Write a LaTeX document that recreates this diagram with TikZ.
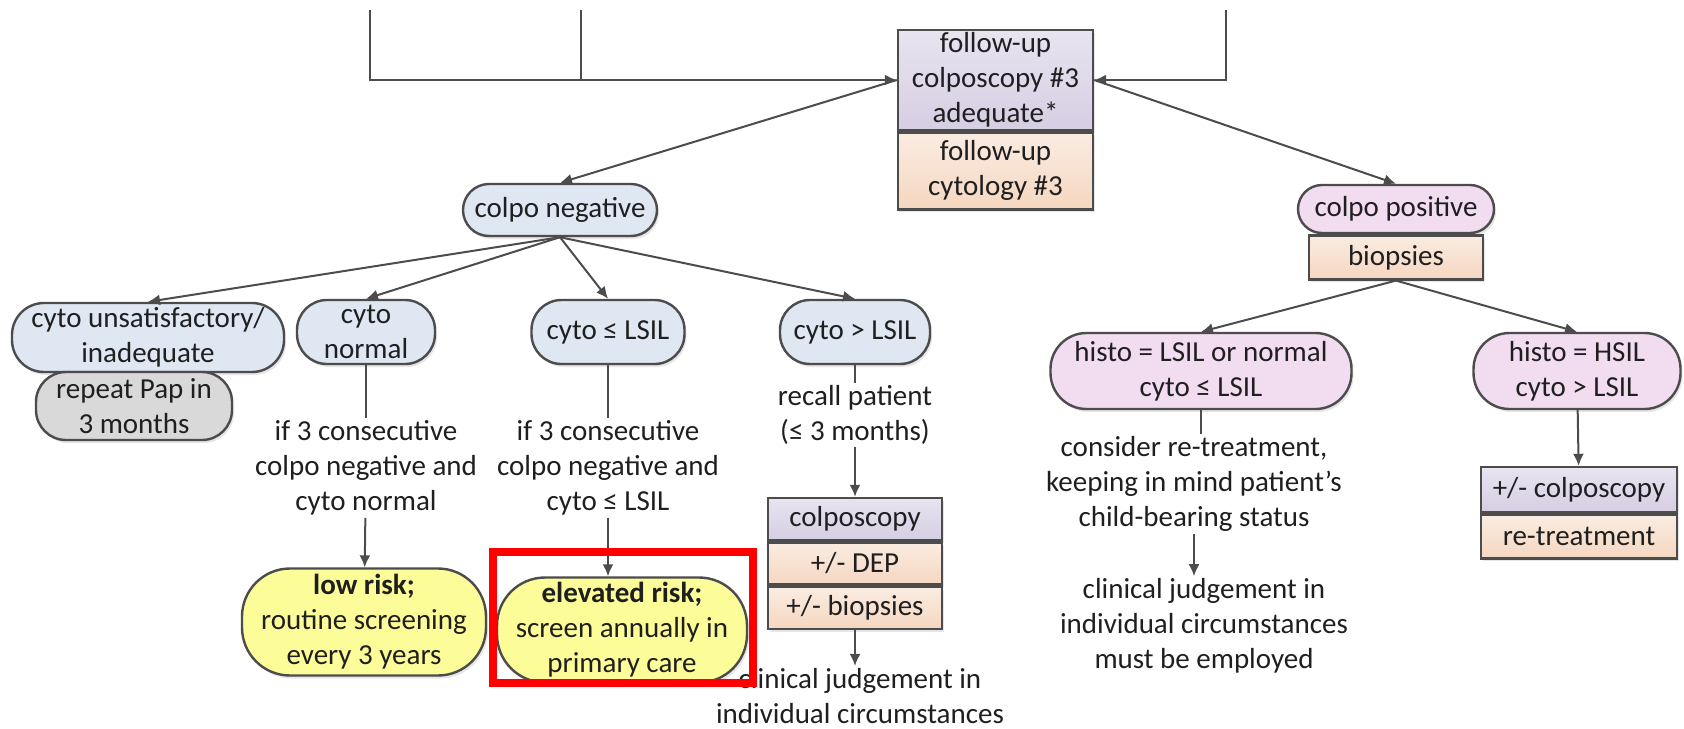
\documentclass[tikz,border=0pt]{standalone}
\usepackage{fontspec}
\setmainfont{Carlito}
\usepackage{tikz}
\usetikzlibrary{arrows.meta, positioning, shadows}
\definecolor{boxblue}{RGB}{222,231,242}
\definecolor{boxpink}{RGB}{242,220,240}
\definecolor{boxgray}{RGB}{217,217,217}
\definecolor{boxyellow}{RGB}{252,252,152}
\definecolor{lavtop}{RGB}{232,228,240}
\definecolor{lavbot}{RGB}{214,206,227}
\definecolor{peachtop}{RGB}{250,236,226}
\definecolor{peachbot}{RGB}{245,215,192}
\definecolor{edgegray}{gray}{0.30}
\definecolor{textgray}{gray}{0.12}

\tikzset{
	pill/.style={rectangle, rounded corners=#1, draw=edgegray, line width=1.2pt, align=center, inner sep=1pt, drop shadow={shadow xshift=1pt, shadow yshift=-1.5pt, opacity=0.2}},
	pill/.default=12pt,
	stepbox/.style={rectangle, draw=edgegray, line width=1.2pt, align=center, inner sep=0.5pt, drop shadow={shadow xshift=1pt, shadow yshift=-1.5pt, opacity=0.2}},
	lavbox/.style={stepbox, top color=lavtop, bottom color=lavbot},
	peachbox/.style={stepbox, top color=peachtop, bottom color=peachbot},
	note/.style={align=center, inner sep=1pt},
	conn/.style={draw=edgegray, line width=1pt}
}

\begin{document}
\begin{tikzpicture}[x=0.5pt, y=-0.5pt, >={Latex[length=6pt, width=5.5pt]}, every node/.style={font=\fontsize{14.5}{17.5}\selectfont, text=textgray}]

\useasboundingbox (0,0) rectangle (1684,728);

\def \bw{87pt}   % width of the stacked boxes
\def \bh{21pt}   % height of one row

% follow-up box
\node[lavbox, minimum width=97.5pt, minimum height=50pt] (fuc) at (995.5, 80) {follow-up\\colposcopy \#3\\adequate*};
\node[peachbox, minimum width=97.5pt, minimum height=38.5pt, below=0pt of fuc] (fcy) {follow-up\\cytology \#3};

\coordinate (lt) at (370, 10);
\coordinate (mt) at (581, 10);
\coordinate (rt) at (1226, 10);

\draw[conn, ->] (lt) |- (fuc.west); % from left
\draw[conn] (mt) -- (mt |- fuc.west);
\draw[conn, ->] (rt) |- (fuc.east); % from right

% colpo negative branch
\node[pill=13pt, fill=boxblue, minimum width=97pt, minimum height=26pt] (cneg) at (560, 210) {colpo negative};

\node[pill=16pt, fill=boxblue, minimum width=136pt, minimum height=34.5pt] (cunsat) at (148, 337.5) {cyto unsatisfactory/\\inadequate};
\node[pill=15pt, fill=boxgray, minimum width=98pt, minimum height=34pt] (rpap) at (134, 406) {repeat Pap in\\3 months};
\node[pill=15pt, fill=boxblue, minimum width=69pt, minimum height=32pt] (cnorm) at (366, 332) {cyto\\normal};
\node[pill=15pt, fill=boxblue, minimum width=76.5pt, minimum height=32pt] (cle) at (608, 332) {cyto ≤ LSIL};
\node[pill=15pt, fill=boxblue, minimum width=75pt, minimum height=32pt] (cgt) at (855, 332) {cyto > LSIL};

\draw[conn, ->] (fuc.west) -- (cneg.north);
\foreach \n in {cunsat, cnorm, cle, cgt} {
	\draw[conn, ->] (cneg.south) -- (\n.north);
}

\node[note] (t1) at (366, 468) {if 3 consecutive\\colpo negative and\\cyto normal};
\node[note] (t2) at (608, 468) {if 3 consecutive\\colpo negative and\\cyto ≤ LSIL};
\node[note] (t3) at (855, 415) {recall patient\\(≤ 3 months)};

\node[pill=24pt, fill=boxyellow, minimum width=122pt, minimum height=53.5pt] (lowr) at (364, 622) {\textbf{low risk;}\\routine screening\\every 3 years};
\node[pill=24pt, fill=boxyellow, minimum width=125pt, minimum height=52.5pt] (elevr) at (622, 630) {\textbf{elevated risk;}\\screen annually in\\primary care};

\node[lavbox, minimum width=\bw, minimum height=\bh] (colp) at (855, 519) {colposcopy};
\node[peachbox, minimum width=\bw, minimum height=\bh, below=0pt of colp] (dep) {+/- DEP};
\node[peachbox, minimum width=\bw, minimum height=\bh, below=0pt of dep] (bio) {+/- biopsies};

\node[note] (t4) at (860, 696) {clinical judgement in\\individual circumstances};

\draw[conn] (cnorm) -- (t1);
\draw[conn, ->] (t1) -- (lowr);
\draw[conn] (cle) -- (t2);
\draw[conn, ->] (t2.south) -- (t2.south |- elevr.north);
\draw[conn] (cgt) -- (t3);
\draw[conn, ->] (t3) -- (colp);
\draw[conn, ->] (bio.south) -- (bio.south |- t4.north);

\draw[red, line width=4pt] (493, 552) rectangle (753, 683); % highlight

% colpo positive branch
\node[pill=12pt, fill=boxpink, minimum width=98pt, minimum height=24pt] (cpos) at (1396, 209) {colpo positive};
\node[peachbox, minimum width=\bw, minimum height=22pt, below=0pt of cpos] (biop) {biopsies};

\node[pill=18pt, fill=boxpink, minimum width=150.5pt, minimum height=38pt] (h1) at (1201, 371) {histo = LSIL or normal\\cyto ≤ LSIL};
\node[pill=18pt, fill=boxpink, minimum width=103.5pt, minimum height=38pt] (h2) at (1577, 371) {histo = HSIL\\cyto > LSIL};

\draw[conn, ->] (fuc.east) -- (cpos.north);
\foreach \n in {h1, h2} {
	\draw[conn, ->] (biop.south) -- (\n.north);
}

\node[note] (t5) at (1194, 484) {consider re-treatment,\\keeping in mind patient’s\\child-bearing status};
\node[note] (t6) at (1204, 626) {clinical judgement in\\individual circumstances\\must be employed};

\node[lavbox, minimum width=98pt, minimum height=22.5pt] (pcol) at (1579, 489.5) {+/- colposcopy};
\node[peachbox, minimum width=98pt, minimum height=22pt, below=0pt of pcol] (retr) {re-treatment};

\draw[conn] (h1.south) -- (h1.south |- t5.north);
\draw[conn, ->] (t5.south) -- (t5.south |- t6.north);
\draw[conn, ->] (h2) -- (pcol);

\end{tikzpicture}
\end{document}
